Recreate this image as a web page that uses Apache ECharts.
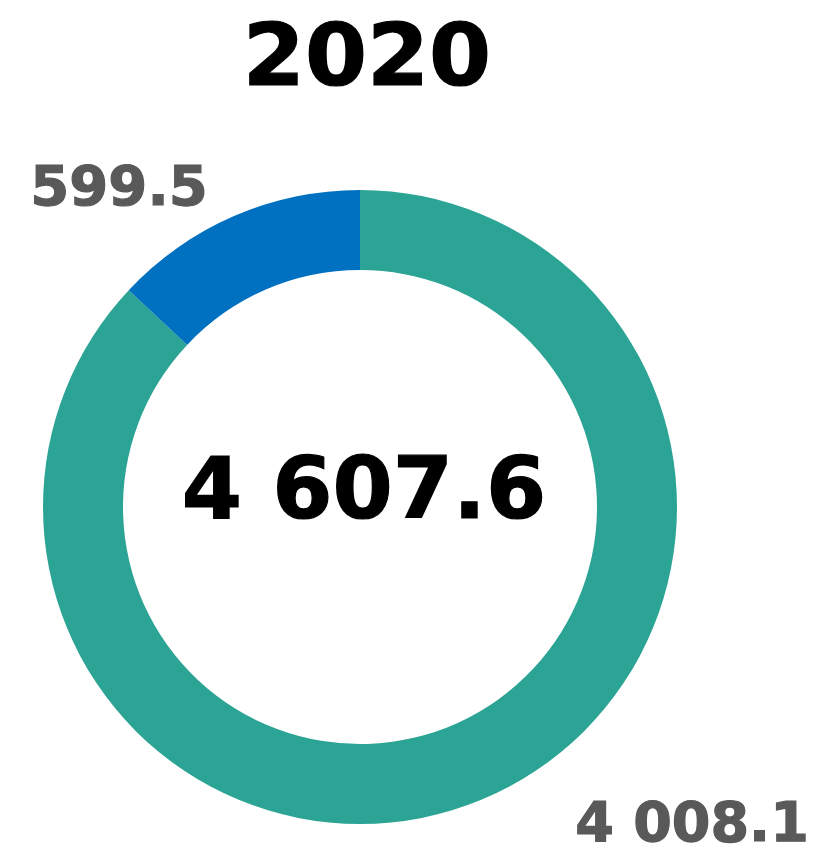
<!DOCTYPE html>
<html>
<head>
<meta charset="utf-8">
<script src="https://cdn.jsdelivr.net/npm/echarts@6/dist/echarts.min.js"></script>
<style>html,body{margin:0;padding:0;background:#fff}#c{width:820px;height:865px}</style>
</head>
<body>
<div id="c"></div>
<script>
const titleText = "2020";
const categories = ["Teal", "Blue"];
const values = [4008.1, 599.5];
const totalLabel = "4 607.6";
const valueLabels = ["4 008.1", "599.5"];
const colors = ["#2ca495", "#0070c0"];

const chart = echarts.init(document.getElementById('c'), null, {renderer: 'canvas'});
const font = '"DejaVu Sans", Verdana, sans-serif';
function txt(t, size, color, x, y, sx) {
  return {type: 'text', x: x, y: y, scaleX: sx || 1,
    style: {text: t, font: 'bold ' + size + 'px ' + font, fill: color, stroke: color, lineWidth: 1.2,
      textAlign: 'center', textVerticalAlign: 'middle'}};
}
chart.setOption({
  animation: false,
  graphic: [
    txt(titleText, 85, '#000', 367, 63, 1.05),
    txt(totalLabel, 85, '#000', 364, 496, 1.02),
    txt(valueLabels[1], 55, '#595959', 119, 191, 1.02),
    txt(valueLabels[0], 55, '#595959', 692, 827, 1.01)
  ],
  series: [{
    type: 'pie',
    center: [360, 507],
    radius: [237, 317],
    startAngle: 90,
    clockwise: true,
    label: {show: false},
    labelLine: {show: false},
    emphasis: {disabled: true},
    data: categories.map((n, i) => ({name: n, value: values[i], itemStyle: {color: colors[i]}}))
  }]
});
</script>
</body>
</html>
